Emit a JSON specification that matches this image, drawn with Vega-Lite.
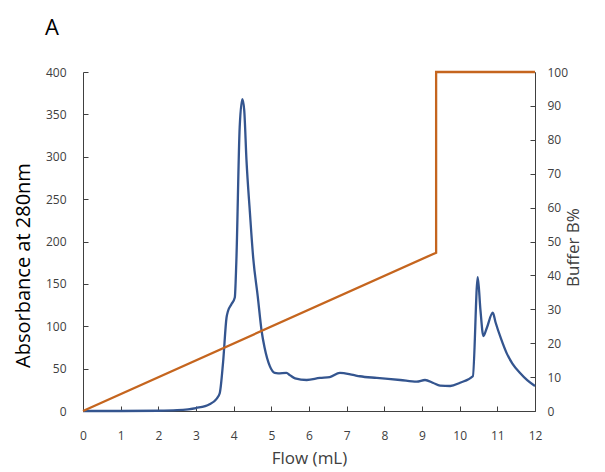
{
  "$schema": "https://vega.github.io/schema/vega-lite/v6.json",
  "width": 452,
  "height": 339,
  "autosize": {"type": "none"},
  "padding": {"left": 83, "top": 72, "right": 70, "bottom": 61},
  "background": "white",
  "title": {"text": "A", "anchor": "start", "frame": "group", "dx": -38, "offset": 26, "fontSize": 22, "font": "Open Sans", "fontWeight": "normal", "color": "#000000"},
  "config": {
    "view": {"stroke": null},
    "axis": {"grid": false, "labelFont": "Open Sans", "titleFont": "Open Sans", "labelColor": "#404040", "titleColor": "#404040", "labelFontSize": 12, "domainColor": "#404040", "tickColor": "#404040", "tickSize": -5, "titleFontWeight": "normal", "labelOverlap": false, "labelFlush": false}
  },
  "datasets": {
    "abs": [
      {"flow": 0, "a": 0}, {"flow": 1, "a": 0}, {"flow": 2, "a": 0.3}, {"flow": 2.5, "a": 1},
      {"flow": 3.0, "a": 3.5}, {"flow": 3.36, "a": 8}, {"flow": 3.54, "a": 14}, {"flow": 3.63, "a": 21},
      {"flow": 3.72, "a": 58}, {"flow": 3.81, "a": 110}, {"flow": 3.85, "a": 118}, {"flow": 3.94, "a": 126},
      {"flow": 4.03, "a": 134}, {"flow": 4.07, "a": 175}, {"flow": 4.16, "a": 335}, {"flow": 4.23, "a": 368},
      {"flow": 4.28, "a": 355}, {"flow": 4.34, "a": 296}, {"flow": 4.43, "a": 235}, {"flow": 4.52, "a": 180},
      {"flow": 4.64, "a": 135}, {"flow": 4.74, "a": 95}, {"flow": 4.82, "a": 75}, {"flow": 4.96, "a": 53},
      {"flow": 5.09, "a": 45}, {"flow": 5.18, "a": 44.5}, {"flow": 5.4, "a": 45}, {"flow": 5.5, "a": 42},
      {"flow": 5.63, "a": 38.6}, {"flow": 5.94, "a": 36.6}, {"flow": 6.29, "a": 39}, {"flow": 6.55, "a": 40},
      {"flow": 6.82, "a": 45}, {"flow": 7.17, "a": 42.5}, {"flow": 7.35, "a": 41}, {"flow": 7.8, "a": 39},
      {"flow": 8.42, "a": 36.6}, {"flow": 8.86, "a": 34.6}, {"flow": 9.08, "a": 36.6}, {"flow": 9.3, "a": 33},
      {"flow": 9.48, "a": 30}, {"flow": 9.75, "a": 29.5}, {"flow": 10.01, "a": 33.4}, {"flow": 10.35, "a": 41},
      {"flow": 10.48, "a": 158}, {"flow": 10.55, "a": 120}, {"flow": 10.63, "a": 88.5}, {"flow": 10.72, "a": 98},
      {"flow": 10.88, "a": 116}, {"flow": 10.95, "a": 105}, {"flow": 11.1, "a": 85}, {"flow": 11.25, "a": 68},
      {"flow": 11.4, "a": 56}, {"flow": 11.61, "a": 44.5}, {"flow": 11.8, "a": 36}, {"flow": 12, "a": 29.5}
    ],
    "buffer": [
      {"flow": 0, "b": 0, "step": 1},
      {"flow": 9.375, "b": 46.7, "step": 2},
      {"flow": 9.375, "b": 100, "step": 3},
      {"flow": 12, "b": 100, "step": 4}
    ]
  },
  "layer": [
    {
      "data": {"name": "abs"},
      "mark": {"type": "line", "color": "#34558F", "strokeWidth": 2.3, "interpolate": "monotone"},
      "encoding": {
        "x": {"field": "flow", "type": "quantitative", "scale": {"domain": [0, 12], "nice": false},
          "axis": {"title": "Flow (mL)", "values": [0,1,2,3,4,5,6,7,8,9,10,11,12], "labelOverlap": false, "labelPadding": 24, "titleFontSize": 17, "titlePadding": 9}},
        "y": {"field": "a", "type": "quantitative", "scale": {"domain": [0, 400], "nice": false},
          "axis": {"title": "Absorbance at 280nm", "values": [0,50,100,150,200,250,300,350,400], "labelPadding": 22, "titleFontSize": 20, "titleColor": "#000000", "titlePadding": 12, "titleY": 193}}
      }
    },
    {
      "data": {"name": "buffer"},
      "mark": {"type": "line", "color": "#C5651E", "strokeWidth": 2.3},
      "encoding": {
        "x": {"field": "flow", "type": "quantitative", "scale": {"domain": [0, 12], "nice": false},
          "axis": {"title": "Flow (mL)", "values": [0,1,2,3,4,5,6,7,8,9,10,11,12], "labelOverlap": false, "labelPadding": 24, "titleFontSize": 17, "titlePadding": 9}},
        "y": {"field": "b", "type": "quantitative", "scale": {"domain": [0, 100], "nice": false},
          "axis": {"orient": "right", "title": "Buffer B%", "values": [0,10,20,30,40,50,60,70,80,90,100], "labelPadding": 17, "titleFontSize": 17, "titleAngle": 270, "titlePadding": 15, "titleY": 175}},
        "order": {"field": "step", "type": "quantitative"}
      }
    }
  ],
  "resolve": {"scale": {"y": "independent"}}
}
